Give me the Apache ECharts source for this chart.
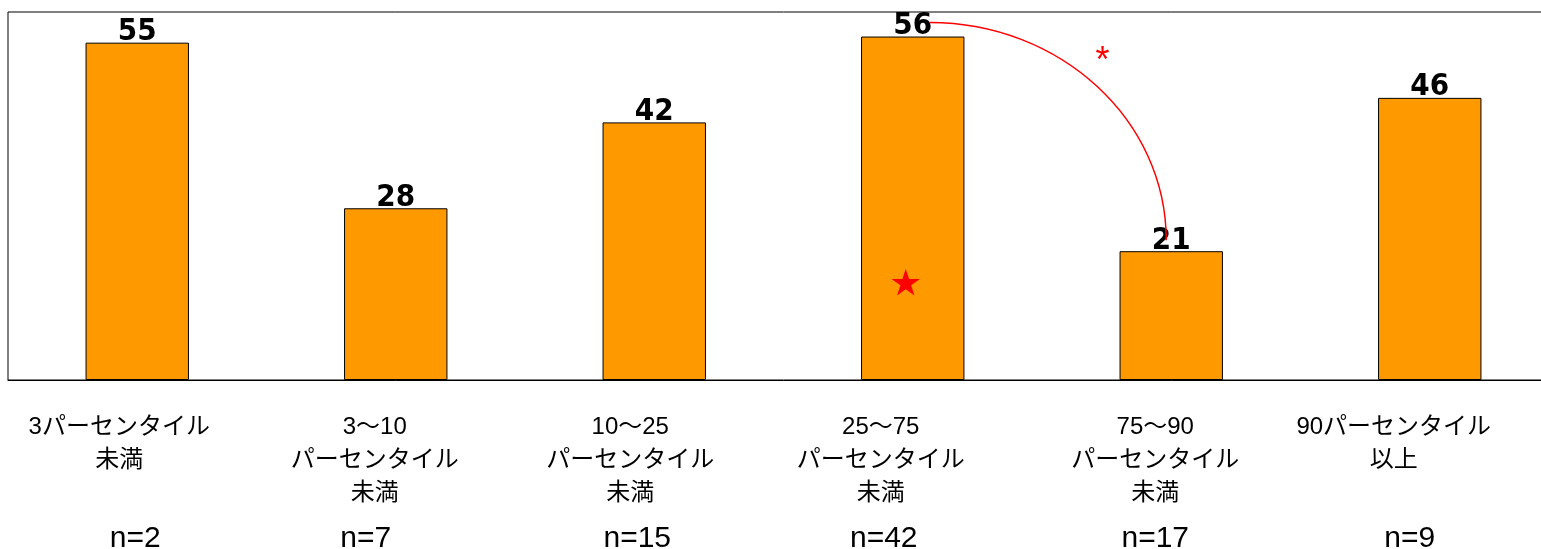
<!DOCTYPE html>
<html>
<head>
<meta charset="utf-8">
<script src="https://cdn.jsdelivr.net/npm/echarts@6/dist/echarts.min.js"></script>
<style>
html,body{margin:0;padding:0;background:#fff;overflow:hidden;width:1541px;height:549px;}
#wrap{position:relative;width:1541px;height:549px;overflow:hidden;}
#chart{position:absolute;left:0;top:0;width:1560px;height:549px;}
</style>
</head>
<body>
<div id="wrap"><div id="chart"></div></div>
<script>
const categories = [
  '3パーセンタイル\n未満',
  '3〜10\nパーセンタイル\n未満',
  '10〜25\nパーセンタイル\n未満',
  '25〜75\nパーセンタイル\n未満',
  '75〜90\nパーセンタイル\n未満',
  '90パーセンタイル\n以上'
];
const values = [55, 28, 42, 56, 21, 46];
const nLabels = ['n=2', 'n=7', 'n=15', 'n=42', 'n=17', 'n=9'];
// significance annotation: from category index 3 to 4
const sigPair = [3, 4];
const sigMark = '*';
const starCategory = 3;
const starMark = '★';

// layout only: horizontal nudge (px, leftwards) of the hand-placed text boxes in the original
const catLabelNudge = [18, 21, 24, 32, 16, 36];
const nLabelNudge = [2, 30, 17, 29, 16, 20];

function nudged(labels, nudges) {
  return labels.map(function (t, i) {
    return {value: t, textStyle: {padding: [0, 2 * nudges[i], 0, 0]}};
  });
}

const chart = echarts.init(document.getElementById('chart'), null, {renderer: 'canvas'});

const option = {
  animation: false,
  backgroundColor: '#fff',
  grid: {
    left: 8, top: 12, right: 1, bottom: 169,
    outerBoundsMode: 'none', containLabel: false,
    show: true, borderColor: '#000', borderWidth: 1, backgroundColor: 'transparent'
  },
  xAxis: [
    {
      type: 'category', data: nudged(categories, catLabelNudge), gridIndex: 0, position: 'bottom',
      axisLine: {show: true, lineStyle: {color: '#000', width: 1}},
      axisTick: {show: false},
      axisLabel: {
        interval: 0, margin: 31, color: '#000', fontSize: 24, lineHeight: 33,
        verticalAlign: 'top',
        fontFamily: "'Liberation Sans', 'Noto Sans CJK JP', sans-serif"
      }
    },
    {
      type: 'category', data: nudged(nLabels, nLabelNudge), gridIndex: 0, position: 'bottom',
      axisLine: {show: false}, axisTick: {show: false},
      axisLabel: {
        interval: 0, margin: 142, color: '#000', fontSize: 30, lineHeight: 34,
        verticalAlign: 'top',
        fontFamily: "'Liberation Sans', 'Noto Sans CJK JP', sans-serif"
      }
    }
  ],
  yAxis: {type: 'value', min: 0, max: 60, show: false, splitLine: {show: false}},
  series: [
    {
      type: 'bar', data: values, barWidth: '40%', xAxisIndex: 0,
      itemStyle: {color: '#FF9900', borderColor: '#000', borderWidth: 1},
      label: {
        show: true, position: 'top', distance: -5, color: '#000',
        fontSize: 31, fontWeight: 'bold',
        fontFamily: "'DejaVu Sans Condensed', 'Liberation Sans', sans-serif"
      },
      z: 2
    },
    {
      type: 'custom', xAxisIndex: 0, coordinateSystem: 'cartesian2d',
      data: [[sigPair[0], values[sigPair[0]], sigPair[1], values[sigPair[1]]]],
      z: 5, silent: true,
      renderItem: function (params, api) {
        const a = api.coord([api.value(0), api.value(1)]);
        const b = api.coord([api.value(2), api.value(3)]);
        const sx = a[0] + 17, sy = a[1] - 14;
        const ex = b[0] - 5, ey = b[1] - 11;
        const rx = ex - sx, ry = ey - sy, k = 0.5523;
        const star = api.coord([starCategory, 16]);
        return {
          type: 'group',
          children: [
            {
              type: 'bezierCurve',
              shape: {x1: sx, y1: sy, cpx1: sx + k * rx, cpy1: sy, cpx2: ex, cpy2: ey - k * ry, x2: ex, y2: ey},
              style: {stroke: '#FF0000', lineWidth: 1.5, fill: null}
            },
            {
              type: 'text',
              style: {
                text: sigMark, x: sx + 0.73 * rx, y: sy + 0.18 * ry,
                fill: '#FF0000', fontSize: 36, align: 'center', verticalAlign: 'middle',
                fontFamily: "'Liberation Sans', sans-serif"
              }
            },
            {
              type: 'text',
              style: {
                text: starMark, x: star[0] - 7, y: star[1],
                fill: '#FF0000', fontSize: 30, align: 'center', verticalAlign: 'middle',
                fontFamily: "'Noto Sans CJK JP', 'DejaVu Sans', sans-serif"
              }
            }
          ]
        };
      }
    }
  ]
};
chart.setOption(option);
</script>
</body>
</html>
